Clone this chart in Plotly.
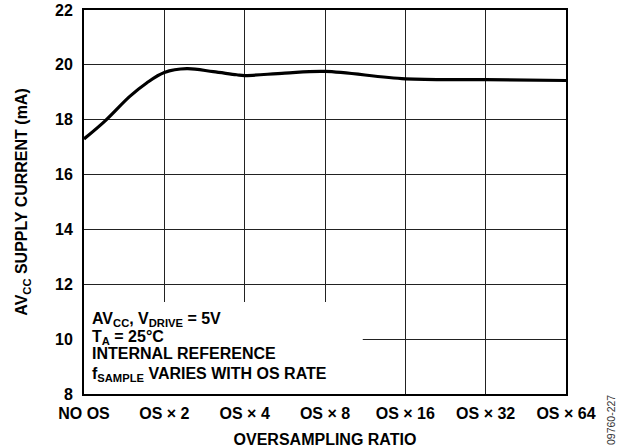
import plotly.graph_objects as go

# Category axis
categories = ["NO OS", "OS × 2", "OS × 4", "OS × 8", "OS × 16", "OS × 32", "OS × 64"]
cat_pos = [0, 1, 2, 3, 4, 5, 6]

# Curve samples (position in category units, current in mA)
curve_x = [0.0, 0.26, 0.57, 0.78, 1.0, 1.28, 1.61, 1.9, 2.0, 2.5, 3.0, 4.0, 5.0, 6.0]
curve_y = [17.3, 17.95, 18.85, 19.34, 19.72, 19.86, 19.75, 19.64, 19.61, 19.7, 19.76, 19.49, 19.46, 19.43]

y_ticks = [8, 10, 12, 14, 16, 18, 20, 22]

note_lines = [
    "AV<sub>CC</sub>, V<sub>DRIVE</sub> = 5V",
    "T<sub>A</sub> = 25°C",
    "INTERNAL REFERENCE",
    "f<sub>SAMPLE</sub> VARIES WITH OS RATE",
]
note_y = [10.70, 10.05, 9.46, 8.72]

FONT = "Liberation Sans, Arial, sans-serif"

fig = go.Figure()
fig.add_trace(go.Scatter(
    x=curve_x, y=curve_y, mode="lines",
    line=dict(color="black", width=3.2, shape="spline", smoothing=1.0),
    showlegend=False, hoverinfo="skip",
))

# white box behind the condition notes (hides grid)
fig.add_shape(type="rect", xref="x", yref="y", x0=0, x1=3.47, y0=8, y1=11.35,
              fillcolor="white", line=dict(width=0), layer="between")

for txt, yy in zip(note_lines, note_y):
    fig.add_annotation(x=0, y=yy, xref="x", yref="y", text="<b>" + txt + "</b>",
                       showarrow=False, xanchor="left", yanchor="middle", xshift=6,
                       font=dict(family=FONT, size=16, color="black"), align="left")

fig.add_annotation(x=1.0, y=0.0, xref="paper", yref="paper", text="09760-227",
                   showarrow=False, textangle=-90, xanchor="center", yanchor="bottom",
                   xshift=45, yshift=-53, font=dict(family=FONT, size=10.5, color="#333"))

fig.update_layout(
    width=619, height=448,
    margin=dict(l=84, r=53, t=10, b=54, autoexpand=False),
    paper_bgcolor="white", plot_bgcolor="white",
    font=dict(family=FONT, color="black"),
)
fig.update_xaxes(
    range=[0, 6], tickvals=cat_pos, ticktext=["<b>" + c + "</b>" for c in categories],
    tickfont=dict(family=FONT, size=16, color="black"),
    showgrid=True, gridcolor="#222", gridwidth=1.2,
    showline=True, linecolor="black", linewidth=2, mirror=True,
    ticks="", zeroline=False, ticklabelstandoff=4, automargin=False,
    ticklabeloverflow="allow",
    title=dict(text="<b>OVERSAMPLING RATIO</b>", font=dict(family=FONT, size=16, color="black"), standoff=14),
)
fig.update_yaxes(
    range=[8, 22], tickvals=y_ticks, ticktext=["<b>%d</b>" % v for v in y_ticks],
    tickfont=dict(family=FONT, size=16, color="black"),
    showgrid=True, gridcolor="#222", gridwidth=1.2,
    showline=True, linecolor="black", linewidth=2, mirror=True,
    ticks="", zeroline=False, ticklabelstandoff=6, automargin=False,
    ticklabeloverflow="allow",
    title=dict(text="<b>AV<sub>CC</sub> SUPPLY CURRENT (mA)</b>", font=dict(family=FONT, size=16, color="black"), standoff=23),
)

fig.write_html("out.html", config={"displayModeBar": False},
               post_script="document.body.style.margin='0';")
